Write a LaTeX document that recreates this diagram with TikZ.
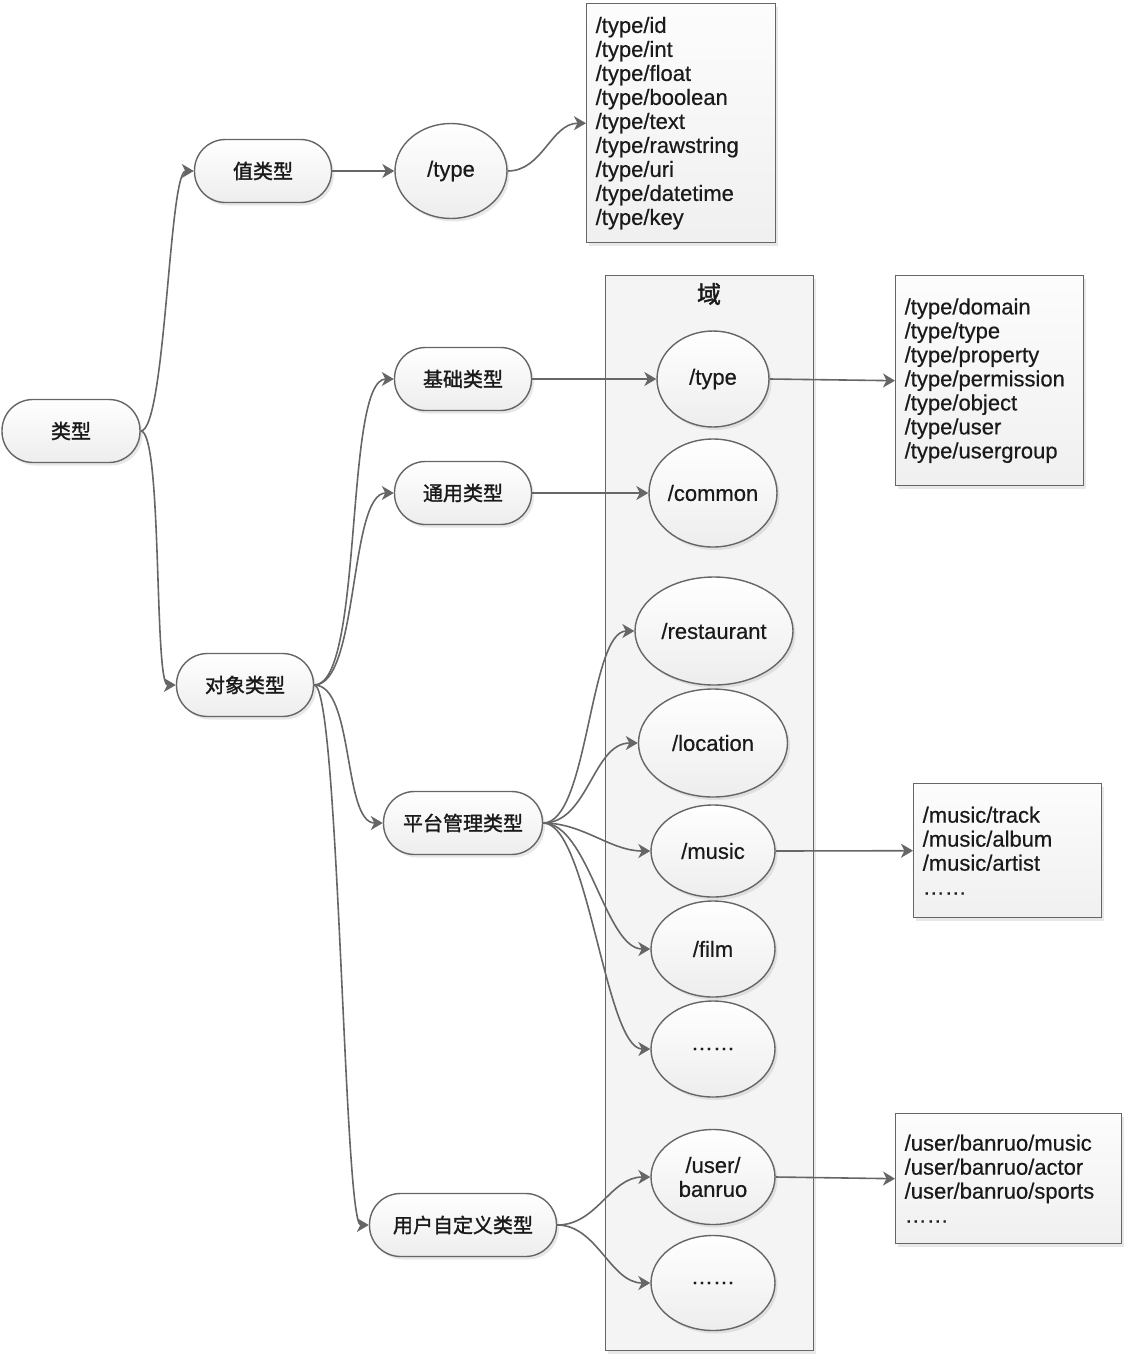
\documentclass[tikz,border=0pt]{standalone}
\usepackage{fontspec}
\setmainfont{Liberation Sans}[FakeBold=0.5]
\newfontfamily\cjk{Noto Sans CJK SC}[FakeBold=1.5]
\usepackage{tikz}
\usetikzlibrary{arrows.meta,positioning,shapes.geometric,shadows}
\definecolor{linegray}{HTML}{666666}
\definecolor{textgray}{HTML}{1A1A1A}

\begin{document}
\begin{tikzpicture}[
    x=1pt, y=-1pt,
    every node/.style={font=\fontsize{22}{24}\selectfont, text=textgray},
    softshadow/.style={drop shadow={opacity=0.18, shadow xshift=2.5pt, shadow yshift=-3pt}},
    pillbox/.style={
      rectangle, rounded corners=31pt, draw=linegray, line width=1.4pt,
      top color=white, bottom color=gray!14, minimum height=63pt,
      font=\cjk\fontsize{20}{24}\selectfont, softshadow
    },
    domainell/.style={
      ellipse, draw=linegray, line width=1.4pt, inner sep=0pt,
      top color=white, bottom color=gray!14, align=center, softshadow
    },
    listbox/.style={
      rectangle, draw=linegray, line width=1.4pt, anchor=north west,
      top color=gray!2, bottom color=gray!12, align=left, inner xsep=9pt, softshadow
    },
    domainbox/.style={
      rectangle, draw=linegray, line width=1.4pt, fill=gray!9,
      anchor=north west, softshadow
    },
    linkarr/.style={draw=linegray, line width=1.6pt, -{Stealth[length=12pt,width=14pt,inset=3.5pt]}}
  ]
    \useasboundingbox (0,0) rectangle (1128,1358);

    % domain container
    \node[domainbox, minimum width=208pt, minimum height=1075pt] (domain) at (605,275) {};
    \node[font=\cjk\fontsize{24}{26}\selectfont] (domaintitle) at (709,294) {域};

    % type tree
    \node[pillbox, minimum width=138pt] (root) at (71,431) {类型};
    \node[pillbox, minimum width=137pt] (valtype) at (263,171) {值类型};
    \node[pillbox, minimum width=137pt] (objtype) at (245,685) {对象类型};
    \node[pillbox, minimum width=137pt] (basetype) at (463,379) {基础类型};
    \node[pillbox, minimum width=137pt] (commtype) at (463,493) {通用类型};
    \node[pillbox, minimum width=159pt] (plattype) at (463,823) {平台管理类型};
    \node[pillbox, minimum width=187pt] (usertype) at (463,1225) {用户自定义类型};

    % domains
    \node[domainell, minimum width=112pt, minimum height=95pt] (vtype) at (451,171) {/type};
    \node[domainell, minimum width=112pt, minimum height=96pt] (btype) at (713,379) {/type};
    \node[domainell, minimum width=128pt, minimum height=108pt] (common) at (713,493) {/common};
    \node[domainell, minimum width=158pt, minimum height=108pt] (restaurant) at (714,631) {/restaurant};
    \node[domainell, minimum width=149pt, minimum height=108pt] (location) at (713,743) {/location};
    \node[domainell, minimum width=124pt, minimum height=92pt] (music) at (713,851) {/music};
    \node[domainell, minimum width=124pt, minimum height=96pt] (film) at (713,949) {/film};
    \node[domainell, minimum width=124pt, minimum height=96pt] (pdots) at (713,1049) {……};
    \node[domainell, minimum width=124pt, minimum height=95pt] (banruo) at (713,1177) {/user/\\banruo};
    \node[domainell, minimum width=124pt, minimum height=95pt] (udots) at (713,1283) {……};

    % type lists
    \node[listbox, text width=171pt, minimum height=239pt] (typelist) at (586,3)
      {/type/id\\/type/int\\/type/float\\/type/boolean\\/type/text\\/type/rawstring\\/type/uri\\/type/datetime\\/type/key};
    \node[listbox, text width=170pt, minimum height=210pt] (baselist) at (895,275)
      {/type/domain\\/type/type\\/type/property\\/type/permission\\/type/object\\/type/user\\/type/usergroup};
    \node[listbox, text width=170pt, minimum height=134pt] (musiclist) at (913,783)
      {/music/track\\/music/album\\/music/artist\\……};
    \node[listbox, text width=208pt, minimum height=130pt] (userlist) at (895,1113)
      {/user/banruo/music\\/user/banruo/actor\\/user/banruo/sports\\……};

    % connectors
    \draw[linkarr] (root.east) to[out=0,in=180,distance=25pt] (valtype.west);
    \draw[linkarr] (root.east) to[out=0,in=180,distance=22pt] (objtype.west);
    \draw[linkarr] (valtype.east) -- (vtype.west);
    \draw[linkarr] (vtype.east) to[out=0,in=180,distance=35pt] (typelist.west);
    \draw[linkarr] (objtype.east) to[out=0,in=180,distance=50pt] (basetype.west);
    \draw[linkarr] (objtype.east) to[out=0,in=180,distance=45pt] (commtype.west);
    \draw[linkarr] (objtype.east) to[out=0,in=180,distance=40pt] (plattype.west);
    \draw[linkarr] (objtype.east) to[out=0,in=180,distance=25pt] (usertype.west);
    \draw[linkarr] (basetype.east) -- (btype.west);
    \draw[linkarr] (btype.east) -- (baselist.west);
    \draw[linkarr] (commtype.east) -- (common.west);
    \draw[linkarr] (plattype.east) to[out=0,in=180,distance=45pt] (restaurant.west);
    \draw[linkarr] (plattype.east) to[out=0,in=180,distance=45pt] (location.west);
    \draw[linkarr] (plattype.east) to[out=0,in=180,distance=40pt] (music.west);
    \draw[linkarr] (plattype.east) to[out=0,in=180,distance=45pt] (film.west);
    \draw[linkarr] (plattype.east) to[out=0,in=180,distance=45pt] (pdots.west);
    \draw[linkarr] (music.east) -- (musiclist.west);
    \draw[linkarr] (usertype.east) to[out=0,in=180,distance=40pt] (banruo.west);
    \draw[linkarr] (usertype.east) to[out=0,in=180,distance=40pt] (udots.west);
    \draw[linkarr] (banruo.east) -- (userlist.west);
\end{tikzpicture}
\end{document}
